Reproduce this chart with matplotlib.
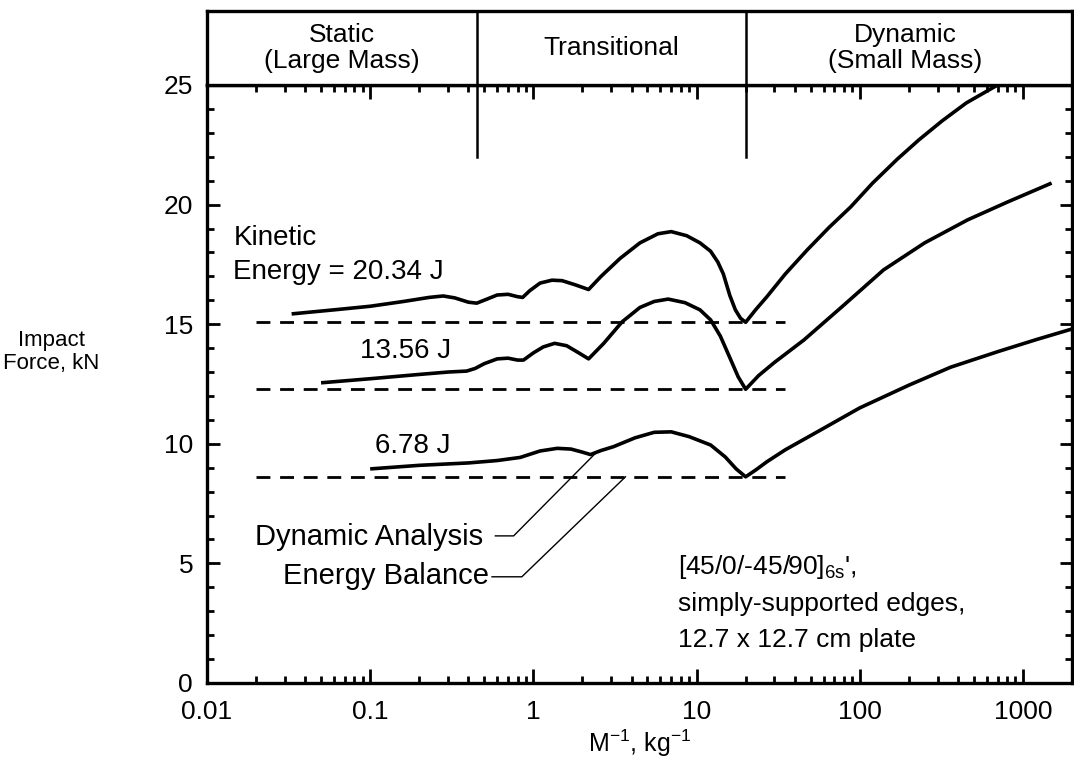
import matplotlib
matplotlib.use("Agg")
import matplotlib.pyplot as plt
from matplotlib.ticker import LogLocator, MultipleLocator, FixedLocator, FixedFormatter, NullFormatter

plt.rcParams['font.family'] = ['Liberation Sans', 'DejaVu Sans']
plt.rcParams['mathtext.fontset'] = 'custom'
plt.rcParams['mathtext.rm'] = 'Liberation Sans'
plt.rcParams['mathtext.it'] = 'Liberation Sans'
plt.rcParams['mathtext.default'] = 'regular'

# Dynamic-analysis curves: impact force (kN) vs inverse impactor mass (1/kg)
x_high = [0.033, 0.06, 0.1, 0.16, 0.23, 0.28, 0.33, 0.4, 0.45, 0.52, 0.6, 0.7, 0.8, 0.86,
          0.95, 1.1, 1.3, 1.5, 1.8, 2.18, 2.6, 3.4, 4.5, 5.8, 7.0, 8.7, 10.5, 12.2, 13.5,
          14.6, 16.0, 17.3, 18.6, 20.0, 23.0, 27.0, 35.0, 47.6, 65.0, 88.0, 120.0, 170.0,
          230.0, 320.0, 450.0, 700.0, 950.0]
f_high = [15.43, 15.6, 15.75, 15.95, 16.12, 16.18, 16.1, 15.92, 15.88, 16.05, 16.22, 16.25,
          16.15, 16.12, 16.4, 16.72, 16.84, 16.82, 16.65, 16.45, 17.0, 17.75, 18.4, 18.78,
          18.87, 18.7, 18.4, 18.05, 17.6, 17.1, 16.2, 15.6, 15.25, 15.08, 15.6, 16.15, 17.1,
          18.1, 19.05, 19.9, 20.9, 21.9, 22.7, 23.5, 24.25, 25.0, 25.5]

x_mid = [0.05, 0.1, 0.2, 0.3, 0.39, 0.44, 0.5, 0.6, 0.7, 0.8, 0.87, 1.0, 1.15, 1.35, 1.6,
         1.9, 2.18, 2.7, 3.5, 4.5, 5.5, 6.7, 8.5, 10.5, 12.2, 14.0, 16.0, 18.0, 20.0, 24.0,
         30.0, 45.5, 80.0, 140.0, 250.0, 458.0, 800.0, 1500.0]
f_mid = [12.55, 12.72, 12.9, 13.0, 13.04, 13.15, 13.35, 13.55, 13.58, 13.5, 13.5, 13.8,
         14.05, 14.2, 14.1, 13.8, 13.55, 14.2, 15.1, 15.7, 15.95, 16.05, 15.9, 15.6, 15.18,
         14.5, 13.6, 12.8, 12.28, 12.85, 13.4, 14.34, 15.8, 17.27, 18.4, 19.36, 20.1, 20.9]

x_low = [0.1, 0.2, 0.4, 0.6, 0.83, 1.1, 1.4, 1.7, 2.0, 2.24, 2.6, 3.1, 4.2, 5.5, 7.0, 9.0,
         12.2, 15.0, 17.5, 20.0, 23.0, 27.0, 35.0, 55.0, 100.0, 200.0, 360.0, 700.0, 1200.0,
         2000.0]
f_low = [8.95, 9.1, 9.2, 9.3, 9.43, 9.7, 9.81, 9.78, 9.65, 9.55, 9.72, 9.88, 10.25, 10.48,
         10.5, 10.3, 9.95, 9.45, 8.95, 8.62, 8.9, 9.25, 9.75, 10.5, 11.5, 12.45, 13.2, 13.85,
         14.35, 14.8]

# Energy-balance (static) force levels
balance_levels = [15.08, 12.28, 8.62]
balance_span = [0.02, 35.0]

# Regime boundaries on the M^-1 axis
regime_bounds = [0.45, 20.0]
regime_names = ["Static\n(Large Mass)", "Transitional", "Dynamic\n(Small Mass)"]
regime_centers = [0.067, 3.0, 190.0]

x_ticks = [0.01, 0.1, 1, 10, 100, 1000]
x_tick_labels = ["0.01", "0.1", "1", "10", "100", "1000"]
y_ticks = [0, 5, 10, 15, 20, 25]

W, H = 1074, 770
fig = plt.figure(figsize=(W / 100, H / 100), dpi=100)

left, right = 207 / W, 1072 / W
bottom, top = 1 - 683 / H, 1 - 85 / H
head_top = 1 - 11 / H

ax = fig.add_axes([left, bottom, right - left, top - bottom])
hx = fig.add_axes([left, top, right - left, head_top - top], sharex=ax)

lw_curve = 2.6
for xs, ys in [(x_high, f_high), (x_mid, f_mid), (x_low, f_low)]:
    ax.plot(xs, ys, color='black', lw=lw_curve, solid_joinstyle='round',
            solid_capstyle='butt', clip_on=True)

for lvl in balance_levels:
    ax.plot(balance_span, [lvl, lvl], color='black', lw=2.0, dashes=(5, 3.5))

ax.set_xscale('log')
ax.set_xlim(0.01, 2000)
ax.set_ylim(0, 25)

ax.xaxis.set_major_locator(FixedLocator(x_ticks))
ax.xaxis.set_major_formatter(FixedFormatter(x_tick_labels))
ax.xaxis.set_minor_locator(LogLocator(base=10, subs=range(2, 10), numticks=20))
ax.xaxis.set_minor_formatter(NullFormatter())
ax.yaxis.set_major_locator(FixedLocator(y_ticks))
ax.yaxis.set_minor_locator(MultipleLocator(1))

ax.tick_params(which='both', direction='in', top=True, right=True, width=2.0,
               labelsize=19)
ax.tick_params(axis='x', pad=12)
ax.tick_params(axis='y', pad=10)
ax.tick_params(which='major', length=10)
ax.tick_params(which='minor', length=5)
ax.tick_params(axis='y', which='major', length=9)
ax.tick_params(axis='y', which='minor', length=5)
for s in ax.spines.values():
    s.set_linewidth(2.4)

# regime dividers reaching into the plot
for b in regime_bounds:
    ax.plot([b, b], [22.0, 25.0], color='black', lw=1.8)
    hx.axvline(b, color='black', lw=1.8)

hx.set_ylim(0, 1)
hx.tick_params(which='both', bottom=False, top=False, left=False, right=False,
               labelbottom=False, labelleft=False)
for s in hx.spines.values():
    s.set_linewidth(2.4)
for name, xc in zip(regime_names, regime_centers):
    hx.text(xc, 0.5, name, ha='center', va='center', fontsize=19, linespacing=1.15)

# curve labels
ax.text(0.0145, 18.6, "Kinetic", ha='left', va='center', fontsize=20)
ax.text(0.0145, 17.2, "Energy = 20.34 J", ha='left', va='center', fontsize=20)
ax.text(0.087, 13.9, "13.56 J", ha='left', va='center', fontsize=20)
ax.text(0.107, 9.9, "6.78 J", ha='left', va='center', fontsize=20)

# leader lines for the two methods
ax.text(0.494, 6.1, "Dynamic Analysis", ha='right', va='center', fontsize=21)
ax.plot([0.585, 0.757, 2.4], [6.15, 6.15, 9.6], color='black', lw=1.0)
ax.text(0.537, 4.47, "Energy Balance", ha='right', va='center', fontsize=21)
ax.plot([0.558, 0.85, 3.67], [4.44, 4.44, 8.62], color='black', lw=1.0)

# laminate description
ax.text(7.65, 4.85, r"[45/0/-45/90]$_{6s}$',", ha='left', va='center', fontsize=19)
ax.text(7.65, 3.3, "simply-supported edges,", ha='left', va='center', fontsize=19)
ax.text(7.65, 1.8, "12.7 x 12.7 cm plate", ha='left', va='center', fontsize=19)

fig.text(51 / W, 1 - 352 / H, "Impact\nForce, kN", ha='center', va='center',
         fontsize=16, linespacing=1.15)
fig.text(640 / W, 1 - 743 / H, r"M$^{-1}$, kg$^{-1}$", ha='center', va='center',
         fontsize=18)

fig.savefig("out.png", dpi=100)
